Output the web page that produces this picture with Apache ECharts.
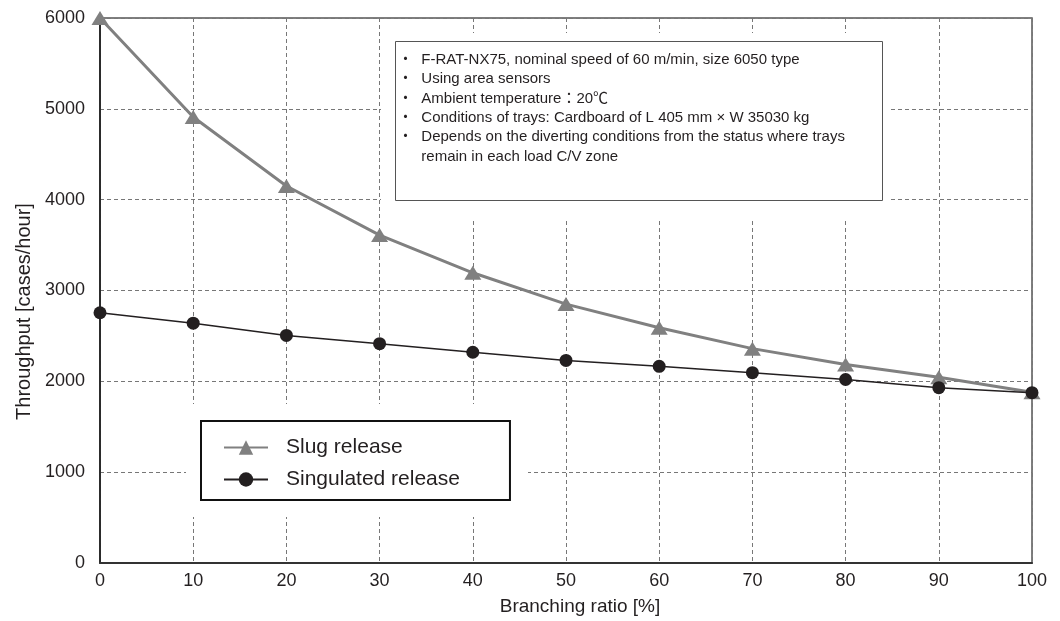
<!DOCTYPE html>
<html>
<head>
<meta charset="utf-8">
<script src="https://cdn.jsdelivr.net/npm/echarts@6/dist/echarts.min.js"></script>
<style>
  html, body { margin: 0; padding: 0; background: #fff; }
  #main { width: 1060px; height: 621px; }
</style>
</head>
<body>
<div id="main"></div>
<script>
// branching ratio [%]
var ratios = [0, 10, 20, 30, 40, 50, 60, 70, 80, 90, 100];
// throughput [cases/hour]
var slugRelease = [6000, 4910, 4150, 3610, 3195, 2850, 2590, 2360, 2185, 2045, 1880];
var singulatedRelease = [2755, 2640, 2505, 2415, 2320, 2230, 2165, 2095, 2020, 1930, 1875];
var seriesNames = ["Slug release", "Singulated release"];
var notes = [
  "・  F-RAT-NX75, nominal speed of 60 m/min, size 6050 type",
  "・  Using area sensors",
  "・  Ambient temperature：20℃",
  "・  Conditions of trays: Cardboard of L 405 mm × W 35030 kg",
  "・  Depends on the diverting conditions from the status where trays",
  "　  remain in each load C/V zone"
];

var font = "'Liberation Sans', Arial, 'Noto Sans CJK JP', sans-serif";
var textColor = "#231f20";

function pairs(ys) {
  return ratios.map(function (x, i) { return [x, ys[i]]; });
}

var graphics = [
  // white masks that hide the grid behind the boxes
  { type: "rect", z: 1, shape: { x: 381, y: 33, width: 508, height: 187 }, style: { fill: "#fff" } },
  { type: "rect", z: 1, shape: { x: 186, y: 404, width: 342, height: 113 }, style: { fill: "#fff" } },
  { type: "rect", z: 10, shape: { x: 395.5, y: 41.5, width: 487, height: 159 },
    style: { fill: "#fff", stroke: "#555", lineWidth: 1 } }
];
notes.forEach(function (t, i) {
  graphics.push({
    type: "text", z: 11, x: 398, y: 60 + i * 19.3,
    style: { text: t, fill: textColor, fontSize: 15, fontFamily: font, verticalAlign: "middle" }
  });
});

var chart = echarts.init(document.getElementById("main"));
chart.setOption({
  animation: false,
  backgroundColor: "#fff",
  grid: {
    left: 100, right: 28, top: 18, bottom: 57,
    show: true, borderColor: "#555", borderWidth: 1.5
  },
  legend: {
    orient: "vertical",
    left: 201, top: 421,
    data: seriesNames,
    itemWidth: 44, itemHeight: 18, itemGap: 11,
    padding: [16, 50, 10, 22],
    backgroundColor: "#fff",
    borderColor: "#111", borderWidth: 2, borderRadius: 0,
    textStyle: { fontSize: 21, fontFamily: font, color: textColor, padding: [0, 0, 0, 13] }
  },
  xAxis: {
    type: "value", min: 0, max: 100, interval: 10,
    name: "Branching ratio [%]", nameLocation: "middle", nameGap: 34,
    nameTextStyle: { fontSize: 19, fontFamily: font, color: textColor, padding: [0, 0, 0, 28] },
    axisLine: { lineStyle: { color: "#333", width: 2 } },
    axisTick: { show: false },
    axisLabel: { fontSize: 18, fontFamily: font, color: textColor, margin: 9 },
    splitLine: { lineStyle: { color: "#777", type: [4, 3], width: 1 } }
  },
  yAxis: {
    type: "value", min: 0, max: 6000, interval: 1000,
    name: "Throughput [cases/hour]", nameLocation: "middle", nameGap: 60,
    nameTextStyle: { fontSize: 20, fontFamily: font, color: textColor, padding: [0, 42, 0, 0] },
    axisLine: { show: true, lineStyle: { color: "#111", width: 1.5 } },
    axisTick: { show: false },
    axisLabel: {
      fontSize: 18, fontFamily: font, color: textColor, margin: 15,
      formatter: function (v) { return String(v); }
    },
    splitLine: { lineStyle: { color: "#777", type: [4, 3], width: 1 } }
  },
  series: [
    {
      name: seriesNames[0], type: "line", data: pairs(slugRelease),
      symbol: "triangle", symbolSize: [17, 14],
      lineStyle: { color: "#808080", width: 3 },
      itemStyle: { color: "#808080" }
    },
    {
      name: seriesNames[1], type: "line", data: pairs(singulatedRelease),
      symbol: "circle", symbolSize: 13,
      lineStyle: { color: "#231f20", width: 1.5 },
      itemStyle: { color: "#231f20" }
    }
  ],
  graphic: graphics
});
</script>
</body>
</html>
